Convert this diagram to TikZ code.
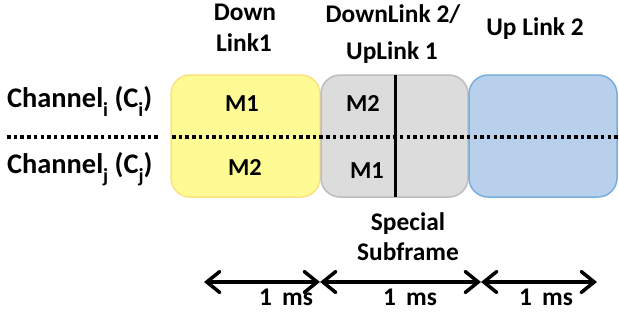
\documentclass[tikz,border=0pt]{standalone}
\usepackage{fontspec}
\setmainfont{Carlito}
\usetikzlibrary{arrows.meta}
\definecolor{ylwfill}{HTML}{FFFB94}
\definecolor{ylwdraw}{HTML}{FFE07C}
\definecolor{gryfill}{HTML}{DCDCDC}
\definecolor{grydraw}{HTML}{BDBDBD}
\definecolor{blufill}{HTML}{B9D0EC}
\definecolor{bludraw}{HTML}{78AEDD}
\newcommand{\lowsub}[1]{\raisebox{-0.32em}{\fontsize{20}{20}\selectfont #1}}
\tikzset{
  lbl/.style={font=\fontsize{25.5}{25.5}\selectfont\bfseries, anchor=base, inner sep=0pt},
  mlbl/.style={font=\fontsize{24.5}{24.5}\selectfont\bfseries, anchor=base, inner sep=0pt},
  chan/.style={font=\fontsize{28.5}{28.5}\selectfont\bfseries, anchor=base west, inner sep=0pt},
  slot/.style={rounded corners=19bp, line width=1.5bp},
  dots/.style={line width=3.5bp, dash pattern=on 3.5bp off 3.2bp},
  barbtip/.tip={Straight Barb[length=13bp,width=21bp,line cap=round,line width=3.5bp]},
  span/.style={line width=3.5bp, barbtip-barbtip}
}
\begin{document}
\begin{tikzpicture}[x=1bp,y=-1bp]
\useasboundingbox (0,0) rectangle (619,329);
% slots
\draw[slot, fill=ylwfill, draw=ylwdraw] (171,75) rectangle (320,197);
\draw[slot, fill=gryfill, draw=grydraw] (321,75) rectangle (468,197);
\draw[slot, fill=blufill, draw=bludraw] (469,75) rectangle (617,197);
% coordinates
\coordinate (dl0) at (7,137);
\coordinate (dl1) at (158,137);
\coordinate (dr0) at (172,137);
\coordinate (dr1) at (619,137);
\coordinate (vt) at (395,75);
\coordinate (vb) at (395,197);
\draw[dots] (dl0) -- (dl1);
\draw[dots] (dr0) -- (dr1);
\draw[line width=3bp] (vt) -- (vb);
% headers
\node[lbl] (h1a) at (245,20) {Down};
\node[lbl] (h1b) at (244,51) {Link1};
\node[lbl] (h2a) at (393,22) {DownLink 2/};
\node[lbl] (h2b) at (392,59) {UpLink 1};
\node[lbl] (h3) at (535,35) {Up Link 2};
% channel labels
\node[chan] (ci) at (7,107) {Channel\lowsub{i} (C\lowsub{i})};
\node[chan] (cj) at (7,173) {Channel\lowsub{j} (C\lowsub{j})};
% M labels
\node[mlbl] (m1a) at (242,111) {M1};
\node[mlbl] (m2a) at (245,175) {M2};
\node[mlbl] (m2b) at (363,111) {M2};
\node[mlbl] (m1b) at (367,178) {M1};
% special subframe
\node[lbl] (sp1) at (408,230) {Special};
\node[lbl] (sp2) at (408,260) {Subframe};
% arrows
\coordinate (a0) at (204,282);
\coordinate (a1) at (320,282);
\coordinate (a2) at (481,282);
\coordinate (a3) at (597,282);
\draw[span] (a0) -- (a1);
\draw[span] (a1) -- (a2);
\draw[span] (a2) -- (a3);
\node[lbl] (t1) at (286,305) {1\hspace{0.4em}ms};
\node[lbl] (t2) at (410,305) {1\hspace{0.4em}ms};
\node[lbl] (t3) at (546,305) {1\hspace{0.4em}ms};
\end{tikzpicture}
\end{document}
